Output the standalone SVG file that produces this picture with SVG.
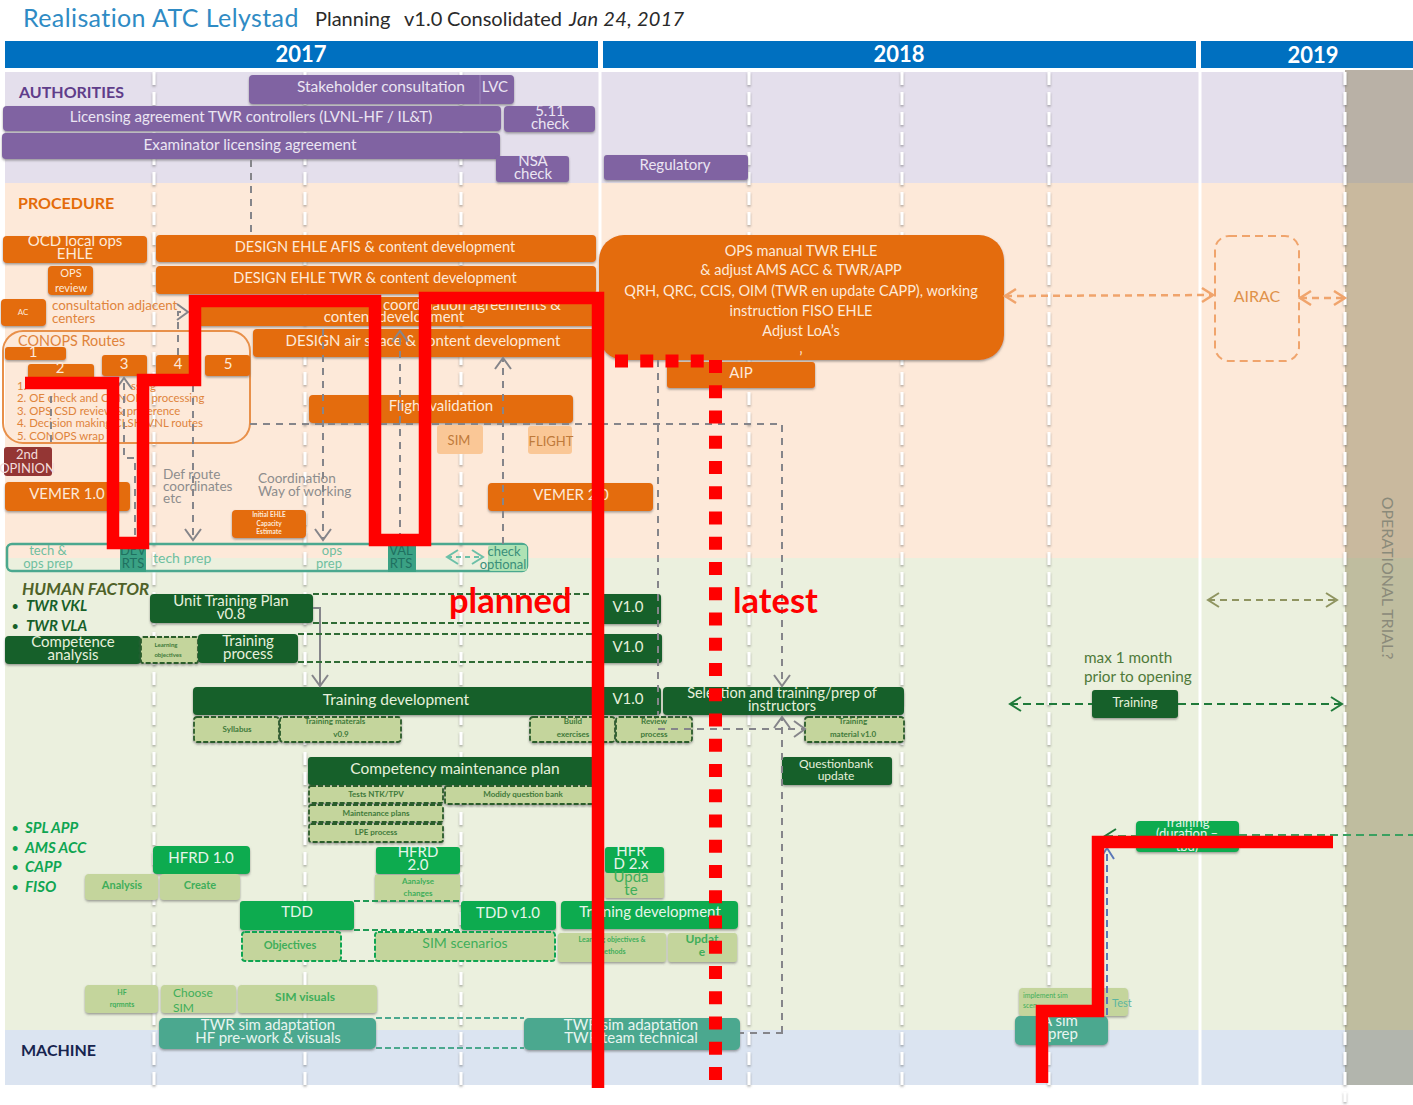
<svg xmlns="http://www.w3.org/2000/svg" width="1413" height="1105" viewBox="0 0 1413 1105">
<style>
text{font-family:"Lato","Liberation Sans",sans-serif;dominant-baseline:central;text-anchor:middle;font-size:15px}
text:not(.rot){transform:translateY(-1px)}
.s{text-anchor:start}
.b{font-weight:700}
.lane{font-size:16px;font-weight:700}
.p rect{fill:#8064a2;filter:url(#sh)} .p text{fill:#ebe5f2}
.o rect{fill:#e46c0a;filter:url(#sh)} .o text{fill:#fde9d9}
.d rect{fill:#17602a;filter:url(#sh)} .d text{fill:#e6f0dc}
.g rect{fill:#0cab50;filter:url(#sh)} .g text{fill:#e6f5ea}
.t rect{fill:#4ba88f;filter:url(#sh)} .t text{fill:#e8f5f0}
.l rect{fill:#c4d59c;filter:url(#sh)} .l text{fill:#3fae5a;font-weight:700}
.ld rect{fill:#c4d59c;stroke:#2b5d2b;stroke-width:1.8;stroke-dasharray:5 2;filter:url(#sh)} .ld text{fill:#3f7a3a;font-size:8px;font-weight:700}
.lg rect{fill:#c4d59c;stroke:#0fa552;stroke-width:2;stroke-dasharray:5 2} .lg text{fill:#3fae5a;font-weight:700}
.lo rect{fill:#fac796} .lo text{fill:#bf7a3a;font-size:13px}
.w{fill:none;stroke:#fff;stroke-width:3}
.wd{fill:none;stroke:#fff;stroke-width:3;stroke-dasharray:13 7;filter:url(#sh)}
.cg{fill:none;stroke:#85858a;stroke-width:2;stroke-dasharray:7 6}
.co{fill:none;stroke:#f0a46c;stroke-width:2.5;stroke-dasharray:7 5}
.cd{fill:none;stroke:#2f6b35;stroke-width:2;stroke-dasharray:6 3}
.cm{fill:none;stroke:#1f7a3a;stroke-width:2;stroke-dasharray:8 5}
.cb{fill:none;stroke:#5a78b8;stroke-width:2;stroke-dasharray:7 4}
.ct{fill:none;stroke:#4ba88f;stroke-width:1.8;stroke-dasharray:6 3}
.cn{fill:none;stroke:#1f9a55;stroke-width:1.8;stroke-dasharray:6 3}
.r{fill:none;stroke:#f00;stroke-width:12.5;stroke-linejoin:miter}
.rd{fill:none;stroke:#f00;stroke-width:13;stroke-dasharray:13 12.25}
.ot{fill:#e0843c;font-size:13.4px}
.li{fill:#e0843c;font-size:11.4px}
.gy{fill:#8d8d8d;font-size:13.6px}
.h{font-size:15px;font-style:italic;font-weight:700}
</style>
<defs>
<filter id="sh" x="-5%" y="-15%" width="110%" height="135%"><feDropShadow dx="0" dy="1.5" stdDeviation="1.2" flood-color="#555" flood-opacity=".55"/></filter>
<marker id="ag" markerUnits="userSpaceOnUse" markerWidth="20" markerHeight="20" refX="13" refY="9" orient="auto-start-reverse"><path d="M2 1L13 9L2 17" fill="none" stroke="#85858a" stroke-width="2"/></marker>
<marker id="ao" markerUnits="userSpaceOnUse" markerWidth="20" markerHeight="20" refX="13" refY="8" orient="auto-start-reverse"><path d="M2 1L13 8L2 15" fill="none" stroke="#f0a46c" stroke-width="2.5"/></marker>
<marker id="ad" markerUnits="userSpaceOnUse" markerWidth="20" markerHeight="20" refX="13" refY="8" orient="auto-start-reverse"><path d="M2 1L13 8L2 15" fill="none" stroke="#1f7a3a" stroke-width="2"/></marker>
<marker id="ak" markerUnits="userSpaceOnUse" markerWidth="20" markerHeight="20" refX="13" refY="8" orient="auto-start-reverse"><path d="M2 1L13 8L2 15" fill="none" stroke="#8f9460" stroke-width="2"/></marker>
<marker id="at" markerUnits="userSpaceOnUse" markerWidth="20" markerHeight="20" refX="13" refY="8" orient="auto-start-reverse"><path d="M2 1L13 8L2 15" fill="none" stroke="#6cc0a8" stroke-width="2"/></marker>
<marker id="ab" markerUnits="userSpaceOnUse" markerWidth="20" markerHeight="20" refX="13" refY="8" orient="auto-start-reverse"><path d="M2 1L13 8L2 15" fill="none" stroke="#5a78b8" stroke-width="2"/></marker>
<clipPath id="ctr"><rect x="1136" y="821" width="103" height="31"/></clipPath>
</defs>

<rect width="1413" height="1105" fill="#fff"/>
<g id="bands">
<rect x="5" y="72" width="1340" height="111" fill="#e4dfec"/>
<rect x="5" y="183" width="1340" height="375" fill="#fde9d9"/>
<rect x="5" y="558" width="1340" height="472" fill="#ebf0de"/>
<rect x="5" y="1030" width="1340" height="55" fill="#dbe4f1"/>
<rect x="1345" y="70" width="68" height="113" fill="#b9b1a6"/>
<rect x="1345" y="183" width="68" height="375" fill="#c9b99e"/>
<rect x="1345" y="558" width="68" height="472" fill="#bfbd9f"/>
<rect x="1345" y="1030" width="68" height="55" fill="#b2b5ad"/>
</g>
<g id="grid">
<path class="wd" d="M154 72V1092M305 72V1092M461 72V1092M749 72V1092M902 72V1092M1049 72V1085M1345 72V1102"/>
<path class="w" d="M600 68V1086M1200 68V1090"/>
</g>
<g id="title">
<text class="s" x="23" y="18" style="font-size:25px;fill:#2f8bc4;letter-spacing:.4px">Realisation ATC Lelystad</text>
<text class="s" x="315" y="19" style="font-size:20px;fill:#2a2a2a">Planning<tspan x="404">v1.0</tspan><tspan x="447">Consolidated</tspan><tspan x="569" font-style="italic" letter-spacing=".3">Jan 24, 2017</tspan></text>
</g>
<g id="years">
<rect x="5" y="41" width="593" height="27" fill="#0070c0"/><text class="b" x="301" y="54" style="font-size:22px;fill:#fff">2017</text>
<rect x="603" y="41" width="593" height="27" fill="#0070c0"/><text class="b" x="899" y="54" style="font-size:22px;fill:#fff">2018</text>
<rect x="1201" y="41" width="212" height="27" fill="#0070c0"/><text class="b" x="1313" y="55" style="font-size:22px;fill:#fff">2019</text>
</g>
<g id="lanes">
<text class="s lane" x="19" y="92" style="fill:#5f3d8a">AUTHORITIES</text>
<text class="s lane" x="18" y="203" style="fill:#e46c0a">PROCEDURE</text>
<text class="s b" x="22" y="589" style="font-size:17px;font-style:italic;fill:#4f6228">HUMAN FACTOR</text>
<text class="s h" x="12" y="606" style="fill:#17602a"><tspan font-size="11">•</tspan><tspan x="26">TWR VKL</tspan></text>
<text class="s h" x="12" y="626" style="fill:#17602a"><tspan font-size="11">•</tspan><tspan x="26">TWR VLA</tspan></text>
<text class="s h" x="12" y="828" style="fill:#0fa552"><tspan font-size="11">•</tspan><tspan x="25">SPL APP</tspan></text>
<text class="s h" x="12" y="848" style="fill:#0fa552"><tspan font-size="11">•</tspan><tspan x="25">AMS ACC</tspan></text>
<text class="s h" x="12" y="867" style="fill:#0fa552"><tspan font-size="11">•</tspan><tspan x="25">CAPP</tspan></text>
<text class="s h" x="12" y="887" style="fill:#0fa552"><tspan font-size="11">•</tspan><tspan x="25">FISO</tspan></text>
<text class="s lane" x="21" y="1050" style="fill:#17244f">MACHINE</text>
<text class="rot" x="1388" y="578" transform="rotate(90 1388 578)" style="font-size:16px;fill:#8a8a7a">OPERATIONAL TRIAL?</text>
</g>

<g id="n-stakeholder" class="p"><rect x="249" y="75" width="265" height="29" rx="4"/><text x="381" y="87" style="font-size:15.5px">Stakeholder consultation</text><path d="M480 75V104" stroke="#9a82b8" fill="none"/><text x="495" y="87">LVC</text></g>
<g id="n-licensing" class="p"><rect x="3" y="106" width="498" height="25" rx="4"/><text x="251" y="117">Licensing agreement TWR controllers  (LVNL-HF / IL&amp;T)</text></g>
<g id="n-511" class="p"><rect x="504" y="106" width="91" height="26" rx="4"/><text x="550" y="111">5.11<tspan x="550" dy="13">check</tspan></text></g>
<g id="n-examinator" class="p"><rect x="2" y="133" width="498" height="26" rx="4"/><text x="250" y="145" style="font-size:15.3px">Examinator licensing agreement</text></g>
<g id="n-nsa" class="p"><rect x="496" y="156" width="73" height="26" rx="3"/><text x="533" y="161">NSA<tspan x="533" dy="13">check</tspan></text></g>
<g id="n-regulatory" class="p"><rect x="604" y="155" width="144" height="25" rx="3"/><text x="675" y="165">Regulatory</text></g>

<g id="n-ocd" class="o"><rect x="3" y="236" width="144" height="27" rx="4"/><text x="75" y="241">OCD local ops<tspan x="75" dy="13">EHLE</tspan></text></g>
<g id="n-opsreview" class="o"><rect x="48" y="266" width="45" height="29" rx="4"/><text x="71" y="273" style="font-size:11px">OPS<tspan x="71" dy="15">review</tspan></text></g>
<g id="n-ac" class="o"><rect x="1" y="299" width="45" height="27" rx="4"/><text x="23" y="313" style="font-size:8px">AC</text></g>
<g id="n-consult"><text class="s ot" x="52" y="306">consultation adjacent<tspan x="52" dy="13">centers</tspan></text></g>
<g id="n-afis" class="o"><rect x="156" y="235" width="440" height="27" rx="4"/><text x="375" y="247" style="font-size:14.6px">DESIGN EHLE AFIS &amp; content development</text></g>
<g id="n-twr" class="o"><rect x="156" y="266" width="440" height="28" rx="4"/><text x="375" y="278" style="font-size:14.6px">DESIGN EHLE TWR &amp; content development</text></g>
<g id="n-coord" class="o"><rect x="195" y="297" width="401" height="29" rx="3"/><text x="472" y="305">coordination agreements &amp;<tspan x="394" dy="12">content development</tspan></text></g>
<g id="n-airspace" class="o"><rect x="253" y="329" width="343" height="28" rx="4"/><text x="423" y="341">DESIGN air space &amp; content development</text></g>
<g id="n-conops">
<rect x="3" y="331" width="247" height="112" rx="20" fill="none" stroke="#e8904a" stroke-width="2"/>
<text class="s" x="18" y="341" style="font-size:14.4px;fill:#e0843c">CONOPS Routes</text>
<text class="s li" x="17" y="386">1.<tspan x="131">ssing</tspan></text>
<text class="s li" x="17" y="398">2. OE check and CONOPS processing<tspan x="17" dy="12.5">3. OPS CSD review &amp; preference</tspan><tspan x="17" dy="12.5">4. Decision making CLSK/VNL routes</tspan><tspan x="17" dy="12.5">5. CONOPS wrap</tspan></text>
</g>
<g id="n-step1" class="o"><rect x="5" y="347" width="61" height="13" rx="3"/><text x="33" y="352">1</text></g>
<g id="n-step2" class="o"><rect x="28" y="364" width="66" height="21" rx="3"/><text x="60" y="368">2</text></g>
<g id="n-step3" class="o"><rect x="102" y="355" width="45" height="21" rx="3"/><text x="124" y="364">3</text></g>
<g id="n-step4" class="o"><rect x="156" y="355" width="44" height="21" rx="3"/><text x="178" y="364">4</text></g>
<g id="n-step5" class="o"><rect x="205" y="355" width="45" height="21" rx="3"/><text x="228" y="364">5</text></g>
<g id="n-2nd"><rect x="4" y="447" width="48" height="29" rx="3" fill="#943634"/><text x="27" y="455" style="font-size:13px;fill:#f2dcdb">2nd<tspan x="27" dy="14">OPINION</tspan></text></g>
<g id="n-vemer1" class="o"><rect x="5" y="482" width="125" height="29" rx="4"/><text x="67" y="494">VEMER 1.0</text></g>
<g id="n-defroute"><text class="s gy" x="163" y="475">Def route<tspan x="163" dy="12">coordinates</tspan><tspan x="163" dy="12">etc</tspan></text></g>
<g id="n-coordwork"><text class="s gy" x="258" y="479">Coordination<tspan x="258" dy="13">Way of working</tspan></text></g>
<g id="n-capacity" class="o"><rect x="232" y="510" width="74" height="28" rx="4"/><text class="b" x="269" y="515" style="font-size:6.5px">Initial  EHLE<tspan x="269" dy="9">Capacity</tspan><tspan x="269" dy="8">Estimate</tspan></text></g>
<g id="n-flight" class="o"><rect x="309" y="395" width="264" height="28" rx="4"/><text x="441" y="406">Flight validation</text></g>
<g id="n-sim" class="lo"><rect x="437" y="425" width="46" height="29" rx="3"/><text x="459" y="441">SIM</text></g>
<g id="n-flightbox" class="lo"><rect x="528" y="426" width="44" height="28" rx="3"/><text x="551" y="442">FLIGHT</text></g>
<g id="n-vemer2" class="o"><rect x="488" y="483" width="165" height="28" rx="4"/><text x="571" y="495">VEMER 2.0</text></g>
<g id="n-opsmanual" class="o"><rect x="599" y="235" width="405" height="125" rx="25"/>
<text x="801" y="251" style="font-size:14.5px">OPS manual TWR EHLE<tspan x="801" dy="19">&amp; adjust AMS ACC &amp; TWR/APP</tspan><tspan x="801" dy="21">QRH, QRC, CCIS, OIM (TWR en update CAPP), working</tspan><tspan x="801" dy="20">instruction FISO EHLE</tspan><tspan x="801" dy="20">Adjust LoA’s</tspan><tspan x="801" dy="17">‚</tspan></text></g>
<g id="n-aip" class="o"><rect x="667" y="362" width="148" height="26" rx="3"/><text x="741" y="373">AIP</text></g>
<g id="n-airac"><rect x="1215" y="236" width="84" height="125" rx="14" fill="none" stroke="#f0a46c" stroke-width="2" stroke-dasharray="8 5"/><text x="1257" y="296" style="font-size:16px;fill:#e0924a">AIRAC</text></g>

<g id="n-techbar"><rect x="7" y="544" width="520" height="27" rx="5" fill="none" stroke="#4ba88f" stroke-width="2.5"/>
<text x="48" y="551" style="font-size:13px;fill:#6fbfa0">tech &amp;<tspan x="48" dy="13">ops prep</tspan></text>
<text class="s" x="153" y="558" style="font-size:14px;fill:#6fbfa0">tech prep</text>
<text x="332" y="551" style="font-size:13px;fill:#6fbfa0">ops<tspan x="329" dy="13">prep</tspan></text></g>
<g id="n-dev"><rect x="120" y="545" width="26" height="27" fill="#3aa184"/><text x="133" y="551" style="font-size:13px;fill:#1f7060">DEV<tspan x="133" dy="13">RTS</tspan></text></g>
<g id="n-val"><rect x="388" y="545" width="28" height="27" fill="#3aa184"/><text x="401" y="551" style="font-size:13px;fill:#1f7060">VAL<tspan x="401" dy="13">RTS</tspan></text></g>
<g id="n-check"><rect x="488" y="545" width="39" height="26" rx="3" fill="#aee2b4"/><text x="504" y="552" style="font-size:13px;fill:#3a8f7a">check<tspan x="503" dy="13">optional</tspan></text></g>

<g id="n-utp" class="d"><rect x="150" y="594" width="163" height="29" rx="4"/><text x="231" y="601">Unit Training Plan<tspan x="231" dy="13">v0.8</tspan></text></g>
<g id="n-comp" class="d"><rect x="5" y="636" width="136" height="28" rx="4"/><text x="73" y="642">Competence<tspan x="73" dy="13">analysis</tspan></text></g>
<g id="n-learn" class="ld"><rect x="141" y="637" width="57" height="26" rx="2"/><text x="166" y="645" style="font-size:6px">Learning<tspan x="168" dy="10">objectives</tspan></text></g>
<g id="n-tproc" class="d"><rect x="198" y="634" width="100" height="29" rx="4"/><text x="248" y="641">Training<tspan x="248" dy="13">process</tspan></text></g>
<g id="n-v1a" class="d"><rect x="600" y="594" width="61" height="30" rx="3"/><text x="628" y="607">V1.0</text></g>
<g id="n-v1b" class="d"><rect x="600" y="634" width="62" height="29" rx="3"/><text x="628" y="647">V1.0</text></g>
<g id="n-tdev" class="d"><rect x="193" y="687" width="468" height="28" rx="4"/><text x="396" y="700" style="font-size:15.5px">Training development</text><text x="628" y="699">V1.0</text></g>
<g id="n-syll" class="ld"><rect x="194" y="717" width="85" height="25" rx="3"/><text x="237" y="730">Syllabus</text></g>
<g id="n-tmat" class="ld"><rect x="280" y="717" width="121" height="25" rx="3"/><text x="335" y="722">Training  materals<tspan x="341" dy="13">v0.9</tspan></text></g>
<g id="n-build" class="ld"><rect x="530" y="717" width="85" height="25" rx="3"/><text x="573" y="722">Build<tspan x="573" dy="13">exercises</tspan></text></g>
<g id="n-review" class="ld"><rect x="616" y="717" width="76" height="25" rx="3"/><text x="654" y="722">Review<tspan x="654" dy="13">process</tspan></text></g>
<g id="n-selection" class="d"><rect x="663" y="687" width="241" height="28" rx="4"/><text x="782" y="693" style="font-size:14.5px">Selection and training/prep of<tspan x="782" dy="13">instructors</tspan></text></g>
<g id="n-tmat1" class="ld"><rect x="805" y="717" width="99" height="25" rx="3"/><text x="853" y="722">Training<tspan x="853" dy="13">material  v1.0</tspan></text></g>
<g id="n-qb" class="d"><rect x="782" y="757" width="110" height="28" rx="3"/><text x="836" y="764" style="font-size:12px">Questionbank<tspan x="836" dy="12">update</tspan></text></g>
<g id="n-cmp" class="d"><rect x="308" y="757" width="288" height="28" rx="3"/><text x="455" y="769" style="font-size:15.5px">Competency maintenance plan</text></g>
<g id="n-tests" class="ld"><rect x="309" y="786" width="134" height="17" rx="2"/><text x="376" y="795">Tests  NTK/TPV</text></g>
<g id="n-modidy" class="ld"><rect x="445" y="786" width="151" height="18" rx="2"/><text x="523" y="795">Modidy  question  bank</text></g>
<g id="n-maint" class="ld"><rect x="309" y="805" width="134" height="17" rx="2"/><text x="376" y="814">Maintenance  plans</text></g>
<g id="n-lpe" class="ld"><rect x="309" y="824" width="134" height="18" rx="2"/><text x="376" y="833">LPE process</text></g>

<g id="n-hfrd1" class="g"><rect x="153" y="846" width="97" height="28" rx="4"/><text x="201" y="858">HFRD 1.0</text></g>
<g id="n-analysis" class="l"><rect x="85" y="874" width="73" height="26" rx="4"/><text x="122" y="885" style="font-size:11px">Analysis</text></g>
<g id="n-create" class="l"><rect x="160" y="874" width="80" height="26" rx="4"/><text x="200" y="885" style="font-size:11px">Create</text></g>
<g id="n-hfrd2" class="g"><rect x="376" y="847" width="84" height="27" rx="3"/><text x="418" y="852">HFRD<tspan x="418" dy="13">2.0</tspan></text></g>
<g id="n-aanalyse" class="l"><rect x="375" y="875" width="85" height="26"/><text x="418" y="882" style="font-size:8px">Aanalyse<tspan x="418" dy="12">changes</tspan></text></g>
<g id="n-hfrd2x" class="g"><rect x="605" y="847" width="59" height="26" rx="3"/><text x="631" y="851">HFR<tspan x="631" dy="13">D 2.x</tspan></text></g>
<g id="n-upd1" class="l"><rect x="605" y="873" width="59" height="25" rx="2"/><text x="631" y="877" style="font-weight:400">Upda<tspan x="631" dy="13">te</tspan></text></g>
<g id="n-tdd" class="g"><rect x="240" y="901" width="114" height="29" rx="3"/><text x="297" y="912">TDD</text></g>
<g id="n-tdd1" class="g"><rect x="461" y="901" width="95" height="29" rx="3"/><text x="508" y="913">TDD v1.0</text></g>
<g id="n-tdev2" class="g"><rect x="561" y="901" width="177" height="28" rx="4"/><text x="650" y="912">Training development</text></g>
<g id="n-obj" class="lg"><rect x="242" y="932" width="99" height="29" rx="3"/><text x="290" y="945" style="font-size:11px">Objectives</text></g>
<g id="n-scen" class="lg"><rect x="375" y="932" width="180" height="29" rx="3"/><text x="465" y="943" style="font-size:14px;font-weight:400">SIM scenarios</text></g>
<g id="n-lom" class="l"><rect x="558" y="933" width="108" height="29" rx="3"/><text x="612" y="940" style="font-size:7px">Learning objectives &amp;<tspan x="612" dy="12">methods</tspan></text></g>
<g id="n-upd2" class="l"><rect x="668" y="933" width="69" height="29" rx="3"/><text x="702" y="939" style="font-size:12px">Updat<tspan x="702" dy="13">e</tspan></text></g>
<g id="n-hfreq" class="l"><rect x="85" y="985" width="73" height="28" rx="4"/><text x="122" y="993" style="font-size:7px">HF<tspan x="122" dy="12">rqrmnts</tspan></text></g>
<g id="n-choose" class="l"><rect x="161" y="985" width="75" height="28" rx="4"/><text class="s" x="173" y="993" style="font-size:12px;font-weight:400">Choose<tspan x="173" dy="15">SIM</tspan></text></g>
<g id="n-visuals" class="l"><rect x="238" y="985" width="139" height="28" rx="4"/><text x="305" y="997" style="font-size:12px">SIM visuals</text></g>
<g id="n-twrhf" class="t"><rect x="159" y="1018" width="217" height="31" rx="5"/><text x="268" y="1025">TWR sim adaptation<tspan x="268" dy="13">HF  pre-work &amp; visuals</tspan></text></g>
<g id="n-twrteam" class="t"><rect x="524" y="1018" width="216" height="32" rx="5"/><text x="631" y="1025">TWR sim adaptation<tspan x="631" dy="13">TWR team technical</tspan></text></g>
<g id="n-implement" class="l"><rect x="1019" y="988" width="109" height="28" rx="4"/><text class="s" x="1023" y="996" style="font-size:7px;font-weight:400">implement sim<tspan x="1023" dy="10">scen</tspan></text><text class="s" x="1112" y="1003" style="font-size:11px;font-weight:400;fill:#5db5a0">Test</text></g>
<g id="n-asim" class="t"><rect x="1015" y="1016" width="93" height="29" rx="5"/><text class="s" x="1042" y="1021">A sim<tspan x="1048" dy="13">prep</tspan></text></g>
<g id="n-train-dur" class="g"><rect x="1136" y="821" width="103" height="31" rx="4"/><g clip-path="url(#ctr)"><text x="1187" y="823" style="font-size:13px">Training<tspan x="1187" dy="11">(duration –</tspan><tspan x="1187" dy="13">tbd)</tspan></text></g></g>
<g id="n-training-r" class="d"><rect x="1092" y="690" width="86" height="28" rx="3"/><text x="1135" y="703" style="font-size:13px">Training</text></g>
<g id="n-max"><text class="s" x="1084" y="658" style="font-size:15.3px;fill:#4f7a3a">max 1 month<tspan x="1084" dy="19">prior to opening</tspan></text></g>

<g id="connectors">
<path class="cg" d="M251 160V235"/>
<path class="cg" d="M178 355V312H188" marker-end="url(#ag)"/>
<path class="cg" d="M135 535V458H124V378" marker-end="url(#ag)"/>
<path class="cg" d="M51 442V390"/>
<path class="cg" d="M193 385V540" marker-end="url(#ag)"/>
<path class="cg" d="M323 329V540" marker-end="url(#ag)"/>
<path class="cg" d="M400 540V331" marker-end="url(#ag)"/>
<path class="cg" d="M503 544V358" marker-end="url(#ag)"/>
<path class="cg" d="M658 360V715"/>
<path class="cg" d="M250 424H782V686" marker-end="url(#ag)"/>
<path class="cg" d="M782 1033V717" marker-end="url(#ag)"/>
<path class="cg" d="M783 1033H740"/>
<path class="cg" d="M658 729H805" marker-end="url(#ag)"/>
<path d="M313 608H320V686" fill="none" stroke="#85858a" stroke-width="2" marker-end="url(#ag)"/>
<path class="co" d="M1005 296L1213 295" marker-start="url(#ao)" marker-end="url(#ao)"/>
<path class="co" d="M1300 298H1345" marker-start="url(#ao)" marker-end="url(#ao)"/>
<path d="M1208 600H1337" fill="none" stroke="#8f9460" stroke-width="2" stroke-dasharray="7 5" marker-start="url(#ak)" marker-end="url(#ak)"/>
<path class="cm" d="M1010 704H1092M1178 704H1342"/>
<path d="M1010 704H1030" fill="none" marker-start="url(#ad)"/><path d="M1322 704H1342" fill="none" marker-end="url(#ad)"/>
<path class="cd" d="M313 594H600M313 623H600M298 634H600M298 662H600"/>
<path class="cm" d="M1239 835H1413" style="stroke:#3aa060"/>
<path class="cm" d="M1105 836H1136" marker-start="url(#ad)" style="stroke:#3aa060"/>
<path class="cb" d="M1107 1015V848" marker-end="url(#ab)"/>
<path class="cn" d="M354 901H461M354 930H461M341 961H375"/>
<path class="ct" d="M376 1018H524M376 1048H524"/>
<path d="M447 557H483" fill="none" stroke="#6cc0a8" stroke-width="2" stroke-dasharray="5 4" marker-start="url(#at)" marker-end="url(#at)"/>
</g>

<g id="milestones">
<path class="r" d="M25 383H113V543H143V380H195V301H375V540H425V298H598V1088"/>
<path class="rd" d="M615 361H704"/>
<path class="rd" d="M715.5 360V1082"/>
<path class="r" d="M1042 1083V1011H1098V842H1333"/>
<text class="s b" x="449" y="600" style="font-size:34.5px;fill:#f00">planned</text>
<text class="s b" x="733" y="600" style="font-size:34.5px;fill:#f00">latest</text>
</g>
</svg>
